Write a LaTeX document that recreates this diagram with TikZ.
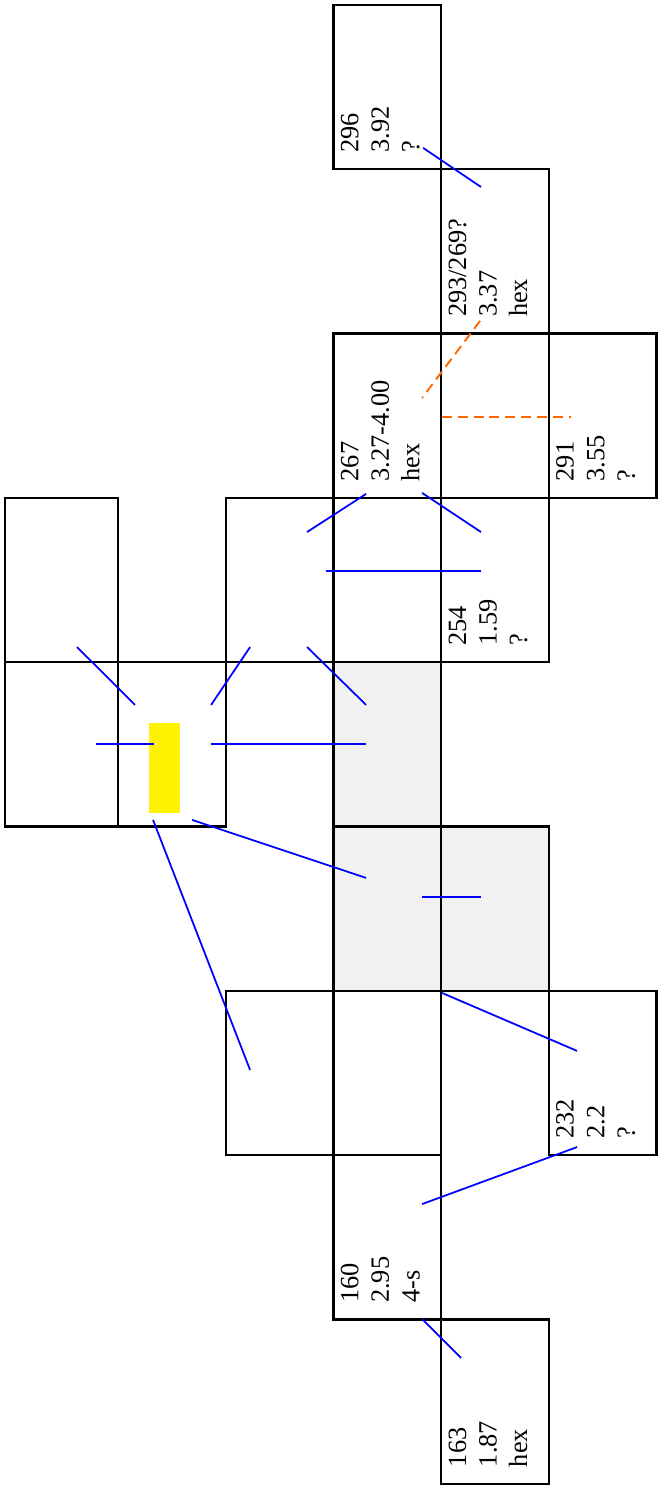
\documentclass[tikz,border=0pt]{standalone}
\usepackage{fontspec}
\setmainfont{Liberation Serif}
\usepackage{xcolor}
\usepackage{tikz}
\usetikzlibrary{positioning}

\definecolor{linkblue}{RGB}{0,0,255}
\definecolor{guessorange}{RGB}{255,102,0}
\definecolor{floorgray}{RGB}{241,241,241}

\begin{document}
\begin{tikzpicture}[x=1.077cm, y=1.643cm,
    wall/.style={line width=0.65pt},
    link/.style={linkblue, line width=0.5pt},
    guess/.style={guessorange, line width=0.55pt, dash pattern=on 2.8pt off 1.7pt},
    cell/.style={rotate=90, anchor=north west, align=left, inner sep=0pt, font=\fontsize{7.5}{8.7}\selectfont}]
    \useasboundingbox (-0.096, 0.030) rectangle (6.005, -9.020);

    % shaded cells and the marker
    \fill [floorgray] (3,-4) rectangle (4,-6);
    \fill [floorgray] (4,-5) rectangle (5,-6);
    \fill [yellow] (1.288,-4.370) rectangle (1.576,-4.918);

    % cells
    \foreach \x/\y in {3/0, 4/-1, 3/-2, 4/-2, 5/-2, 2/-3, 3/-3, 4/-3, 1/-4, 3/-4,
                       3/-5, 4/-5, 2/-6, 3/-6, 5/-6, 3/-7, 4/-8}
        \draw [wall] (\x,\y) rectangle ++(1,-1);
    \draw [wall] (-0.05,-3) rectangle (1,-4);
    \draw [wall] (-0.05,-4) rectangle (1,-5);

    % labels
    \node [cell] (c296) at (3.062,-0.903) {296\\3.92\\?};
    \node [cell] (c293) at (4.062,-1.903) {293/269?\\3.37\\hex};
    \node [cell] (c267) at (3.062,-2.903) {267\\3.27-4.00\\hex};
    \node [cell] (c291) at (5.062,-2.903) {291\\3.55\\?};
    \node [cell] (c254) at (4.062,-3.903) {254\\1.59\\?};
    \node [cell] (c232) at (5.062,-6.903) {232\\2.2\\?};
    \node [cell] (c160) at (3.062,-7.903) {160\\2.95\\4-s};
    \node [cell] (c163) at (4.062,-8.903) {163\\1.87\\hex};

    % links
    \draw [link] (3.832,-0.870) -- (4.370,-1.108);
    \draw [link] (2.755,-3.208) -- (3.303,-2.976);
    \draw [link] (3.823,-2.970) -- (4.370,-3.208);
    \draw [link] (2.931,-3.445) -- (4.370,-3.445);
    \draw [link] (0.619,-3.908) -- (1.158,-4.260);
    \draw [link] (0.796,-4.498) -- (1.334,-4.498);
    \draw [link] (1.864,-4.260) -- (2.226,-3.908);
    \draw [link] (1.864,-4.498) -- (3.303,-4.498);
    \draw [link] (2.755,-3.908) -- (3.303,-4.260);
    \draw [link] (1.325,-4.960) -- (2.226,-6.482);
    \draw [link] (1.687,-4.960) -- (3.303,-5.313);
    \draw [link] (3.823,-5.429) -- (4.370,-5.429);
    \draw [link] (4.008,-6.013) -- (5.262,-6.366);
    \draw [link] (5.262,-6.951) -- (3.823,-7.298);
    \draw [link] (3.823,-7.998) -- (4.185,-8.235);

    % uncertain links
    \draw [guess] (4.361,-1.923) -- (3.823,-2.392);
    \draw [guess] (4.008,-2.508) -- (5.206,-2.508);
\end{tikzpicture}
\end{document}
